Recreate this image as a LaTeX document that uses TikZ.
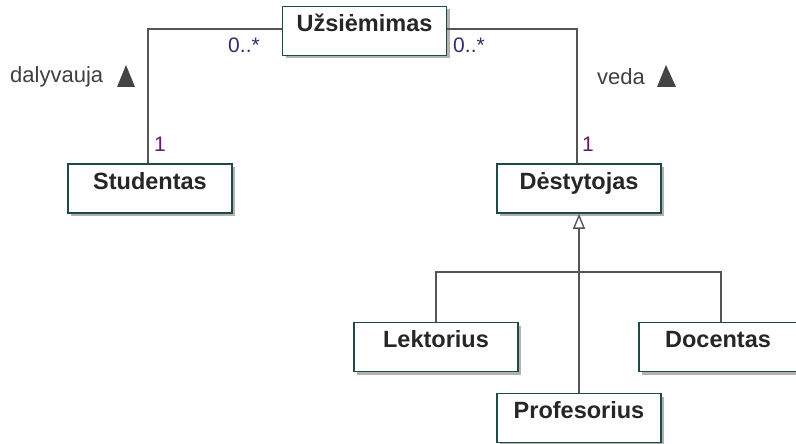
\documentclass[tikz,border=0pt]{standalone}
\usepackage{fontspec}
\setmainfont{Liberation Sans}
\usetikzlibrary{arrows.meta,shadows}
\definecolor{boxline}{HTML}{1F4A47}
\definecolor{wire}{HTML}{555555}
\definecolor{multcol}{HTML}{2E2F6B}
\definecolor{onecol}{HTML}{6A1A6E}
\definecolor{dirtri}{HTML}{444444}
\tikzset{
  classbox/.style={draw=boxline, line width=1.6pt, fill=white, minimum width=164pt, minimum height=49pt,
    inner sep=0pt,
    drop shadow={shadow xshift=3pt, shadow yshift=-3pt, fill=black!30, opacity=1}},
  classname/.style={font=\fontsize{23.5}{27}\selectfont\bfseries, text=black!85, inner sep=0pt, anchor=base},
  wireline/.style={draw=wire, line width=1.4pt},
  mult/.style={font=\fontsize{21}{25}\selectfont, text=multcol, inner sep=0pt},
  one/.style={font=\fontsize{21}{25}\selectfont, text=onecol, inner sep=0pt},
  rolename/.style={font=\fontsize{22}{26}\selectfont, text=black!75, inner sep=0pt, anchor=west},
  reldir/.style={fill=dirtri, draw=none},
  general/.style={-{Triangle[open, width=12pt, length=15pt, fill=white, line width=1.4pt]}, draw=wire, line width=1.4pt}
}
\begin{document}
\begin{tikzpicture}[x=1pt, y=-1pt]
\useasboundingbox (0,0) rectangle (796,444);
\fill[white] (0,0) rectangle (796,444);
\begin{scope}
\clip (0,0) rectangle (796,444);

% class boxes (name sits in the upper part of each box)
\node[classbox] (uz)  at (364.5,31) {};
\node[classbox] (stu) at (150,188.5) {};
\node[classbox] (des) at (579,188.5) {};
\node[classbox] (lek) at (436,347) {};
\node[classbox] (doc) at (721,347) {};
\node[classbox] (pro) at (579,418) {};

% class names, on a baseline 25pt below each box top
\node[classname] (uzt)  at (364.5,32) {Užsiėmimas};
\node[classname] (stut) at (150,189) {Studentas};
\node[classname] (dest) at (579,189) {Dėstytojas};
\node[classname] (lekt) at (436,347) {Lektorius};
\node[classname] (doct) at (718,347) {Docentas};
\node[classname] (prot) at (579,418) {Profesorius};

% associations
\coordinate (lcorner) at (148,29);
\coordinate (rcorner) at (577,29);
\draw[wireline] (uz.west |- lcorner) -- (lcorner) -- (lcorner |- stu.north);
\draw[wireline] (uz.east |- rcorner) -- (rcorner) -- (rcorner |- des.north);

% multiplicities
\node[mult] (m1) at (244,45) {0..*};
\node[mult] (m2) at (469,45) {0..*};
\node[one]  (o1) at (160,144) {1};
\node[one]  (o2) at (588,144) {1};

% association names with direction marks
\node[rolename] (dal) at (10,77) {dalyvauja};
\node[rolename] (ved) at (597,77) {veda};
\fill[reldir] (117,87) -- (126,65) -- (135,87) -- cycle;
\fill[reldir] (657,87) -- (666,65) -- (676,87) -- cycle;

% generalization tree
\coordinate (bar) at (579,272);
\draw[wireline] (lek.north) -- (lek.north |- bar) -- (doc.north |- bar) -- (doc.north);
\draw[general] (pro.north) -- (des.south);
\end{scope}
\end{tikzpicture}
\end{document}
